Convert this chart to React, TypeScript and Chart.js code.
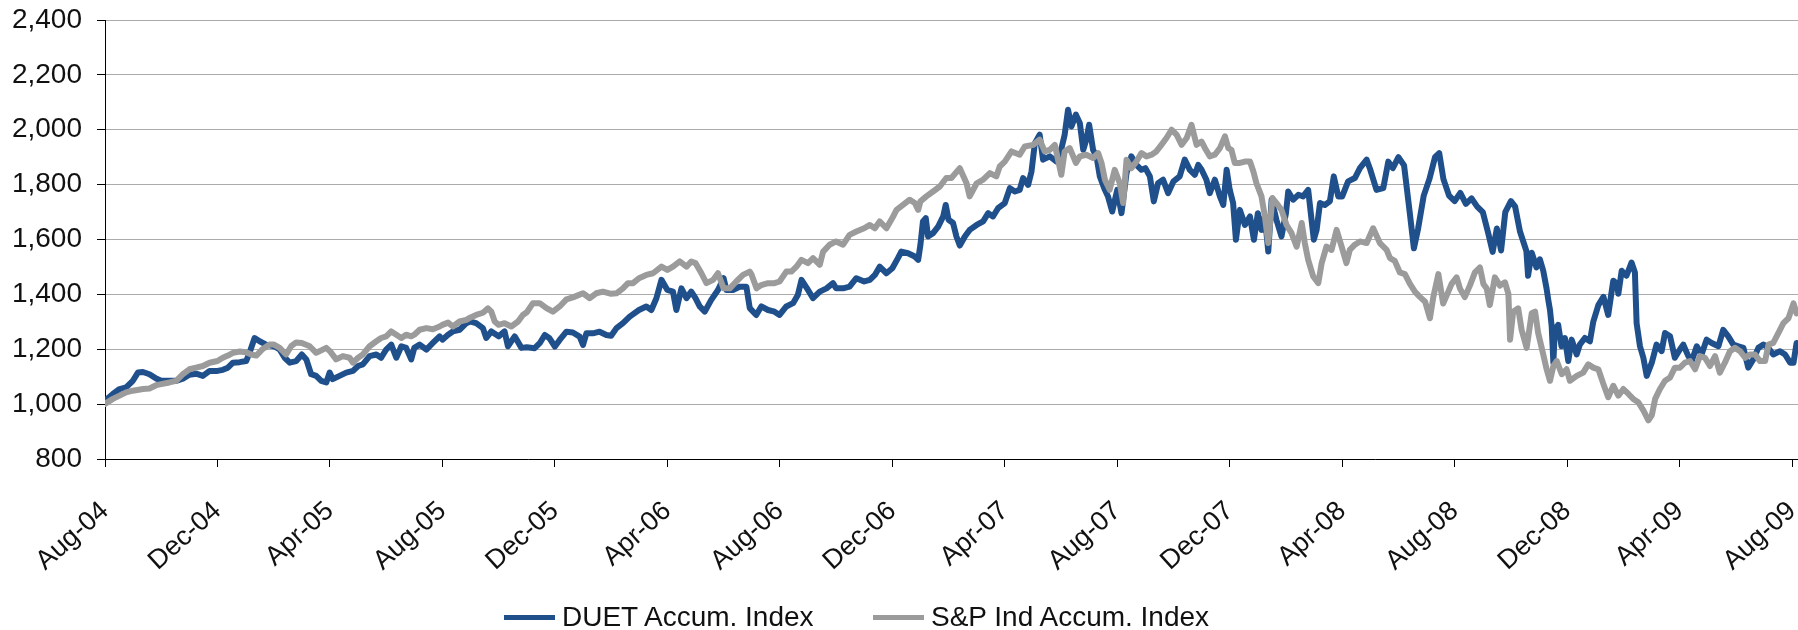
import React, { useEffect, useRef } from "react";
import { Chart, registerables } from "chart.js";

Chart.register(...registerables);

// x positions are months since Aug-04
const tickLabels = [
  "Aug-04", "Dec-04", "Apr-05", "Aug-05", "Dec-05", "Apr-06", "Aug-06", "Dec-06",
  "Apr-07", "Aug-07", "Dec-07", "Apr-08", "Aug-08", "Dec-08", "Apr-09", "Aug-09",
];
const tickStepMonths = 4;
const xMaxMonths = 60.21;
const yMin = 800;
const yMax = 2400;
const yStep = 200;

const seriesNames = ["DUET Accum. Index", "S&P Ind Accum. Index"];
const BLUE = "#20508C";
const GRAY = "#9B9B9B";
const FONT = '"Liberation Sans", Arial, Helvetica, sans-serif';

const duetSeries: [number, number][] = [
  [0, 1013], [0.28, 1037], [0.52, 1055], [0.75, 1061], [0.99, 1085], [1.17, 1115], [1.35, 1117], [1.58, 1109], [1.82, 1093],
  [2.0, 1085], [2.29, 1085], [2.53, 1085], [2.77, 1093], [3.0, 1107], [3.24, 1111], [3.48, 1103], [3.72, 1121], [4.0, 1121],
  [4.19, 1125], [4.37, 1133], [4.55, 1151], [4.79, 1153], [5.02, 1157], [5.14, 1187], [5.32, 1241], [5.5, 1229], [5.73, 1217],
  [6.01, 1211], [6.21, 1199], [6.39, 1169], [6.57, 1151], [6.8, 1157], [7.0, 1181], [7.16, 1163], [7.33, 1109], [7.51, 1103],
  [7.69, 1085], [7.87, 1079], [7.99, 1115], [8.1, 1091], [8.34, 1103], [8.58, 1115], [8.82, 1121], [9.0, 1139], [9.17, 1145],
  [9.41, 1175], [9.65, 1181], [9.82, 1169], [10.0, 1199], [10.18, 1217], [10.36, 1169], [10.54, 1211], [10.71, 1205], [10.89, 1163],
  [11.0, 1205], [11.19, 1217], [11.43, 1199], [11.66, 1223], [11.9, 1247], [12.0, 1235], [12.2, 1253], [12.37, 1265], [12.61, 1271],
  [12.85, 1295], [13.0, 1301], [13.2, 1295], [13.44, 1277], [13.56, 1241], [13.74, 1265], [14.0, 1247], [14.21, 1265], [14.33, 1211],
  [14.57, 1247], [14.81, 1205], [15.0, 1207], [15.28, 1204], [15.46, 1222], [15.64, 1252], [15.81, 1240], [16.0, 1210], [16.17, 1234],
  [16.41, 1264], [16.64, 1261], [16.88, 1246], [17.0, 1216], [17.12, 1258], [17.35, 1258], [17.59, 1264], [17.83, 1252], [18.0, 1249],
  [18.19, 1277], [18.42, 1295], [18.66, 1319], [18.99, 1343], [19.25, 1356], [19.43, 1343], [19.61, 1386], [19.79, 1453], [20.0, 1416],
  [20.2, 1410], [20.32, 1343], [20.5, 1422], [20.68, 1386], [20.85, 1410], [21.0, 1386], [21.15, 1356], [21.33, 1337], [21.56, 1380],
  [21.8, 1416], [22.0, 1459], [22.1, 1416], [22.33, 1416], [22.57, 1428], [22.81, 1428], [22.93, 1350], [23.16, 1325], [23.34, 1356],
  [23.58, 1343], [23.81, 1337], [23.99, 1325], [24.23, 1356], [24.47, 1368], [24.64, 1398], [24.77, 1453], [25.0, 1416], [25.18, 1386],
  [25.42, 1410], [25.66, 1422], [25.89, 1441], [26.0, 1422], [26.25, 1422], [26.48, 1428], [26.72, 1459], [27.0, 1447], [27.2, 1453],
  [27.38, 1471], [27.55, 1501], [27.79, 1477], [28.0, 1495], [28.2, 1532], [28.32, 1556], [28.56, 1550], [28.8, 1538], [28.92, 1526],
  [29.0, 1581], [29.09, 1666], [29.19, 1678], [29.27, 1611], [29.45, 1623], [29.63, 1647], [29.81, 1684], [29.9, 1726], [30.0, 1672],
  [30.16, 1660], [30.28, 1611], [30.4, 1578], [30.58, 1611], [30.75, 1635], [31.0, 1653], [31.23, 1666], [31.41, 1696], [31.58, 1684],
  [31.76, 1714], [32.0, 1733], [32.18, 1787], [32.36, 1775], [32.53, 1781], [32.65, 1824], [32.83, 1799], [32.95, 1848], [33.07, 1951],
  [33.24, 1982], [33.36, 1891], [33.6, 1903], [33.84, 1884], [33.99, 1921], [34.13, 1982], [34.25, 2073], [34.37, 2012], [34.53, 2055],
  [34.67, 2024], [34.79, 1927], [34.9, 1964], [35.0, 2018], [35.14, 1927], [35.26, 1903], [35.38, 1830], [35.56, 1781], [35.67, 1757],
  [35.82, 1702], [36.0, 1781], [36.15, 1696], [36.33, 1842], [36.5, 1903], [36.68, 1872], [36.86, 1854], [37.0, 1860], [37.16, 1830],
  [37.3, 1739], [37.45, 1805], [37.63, 1818], [37.81, 1769], [38.0, 1812], [38.22, 1830], [38.4, 1891], [38.58, 1854], [38.76, 1836],
  [38.88, 1872], [39.0, 1854], [39.17, 1818], [39.29, 1769], [39.47, 1818], [39.65, 1757], [39.77, 1726], [39.89, 1854], [40.0, 1781],
  [40.12, 1733], [40.22, 1599], [40.36, 1708], [40.54, 1653], [40.72, 1684], [40.86, 1599], [41.0, 1696], [41.13, 1635], [41.25, 1684],
  [41.37, 1556], [41.49, 1745], [41.66, 1672], [41.84, 1611], [42.0, 1696], [42.08, 1775], [42.26, 1745], [42.44, 1763], [42.61, 1757],
  [42.79, 1781], [42.99, 1599], [43.09, 1635], [43.21, 1733], [43.38, 1726], [43.56, 1739], [43.7, 1830], [43.86, 1757], [44.0, 1757],
  [44.21, 1812], [44.45, 1824], [44.63, 1860], [44.87, 1891], [45.0, 1854], [45.22, 1781], [45.46, 1787], [45.64, 1884], [45.8, 1860],
  [46.0, 1900], [46.2, 1870], [46.4, 1700], [46.55, 1568], [46.7, 1640], [46.9, 1760], [47.1, 1820], [47.3, 1900], [47.45, 1915],
  [47.6, 1820], [47.8, 1760], [48.0, 1740], [48.2, 1770], [48.4, 1730], [48.6, 1750], [48.8, 1720], [49.0, 1700], [49.2, 1620],
  [49.35, 1555], [49.5, 1640], [49.65, 1560], [49.8, 1700], [50.0, 1740], [50.15, 1720], [50.32, 1630], [50.55, 1558], [50.61, 1468],
  [50.74, 1552], [50.91, 1498], [51.03, 1528], [51.15, 1486], [51.27, 1420], [51.33, 1379], [51.39, 1343], [51.45, 1283], [51.51, 1151],
  [51.56, 1271], [51.68, 1289], [51.8, 1211], [51.92, 1241], [52.04, 1157], [52.16, 1235], [52.34, 1181], [52.45, 1217], [52.63, 1241],
  [52.81, 1229], [52.93, 1301], [53.11, 1361], [53.29, 1391], [53.46, 1325], [53.64, 1450], [53.78, 1438], [53.82, 1402], [53.94, 1486],
  [54.11, 1468], [54.29, 1516], [54.41, 1480], [54.47, 1295], [54.59, 1211], [54.71, 1169], [54.83, 1103], [55.01, 1151], [55.18, 1217],
  [55.36, 1193], [55.48, 1259], [55.66, 1247], [55.83, 1169], [56.01, 1199], [56.13, 1217], [56.31, 1175], [56.43, 1157], [56.61, 1211],
  [56.78, 1181], [56.96, 1235], [57.14, 1223], [57.38, 1211], [57.55, 1271], [57.73, 1247], [57.91, 1217], [58.09, 1211], [58.27, 1205],
  [58.44, 1133], [58.62, 1163], [58.8, 1205], [58.98, 1217], [59.15, 1205], [59.33, 1181], [59.57, 1193], [59.75, 1181], [59.93, 1151],
  [60.05, 1151], [60.16, 1223],
];

const spSeries: [number, number][] = [
  [0, 1001], [0.28, 1019], [0.52, 1031], [0.75, 1043], [0.99, 1049], [1.35, 1055], [1.58, 1057], [1.82, 1069], [2.0, 1073],
  [2.29, 1079], [2.53, 1085], [2.77, 1109], [3.0, 1127], [3.24, 1133], [3.48, 1139], [3.72, 1151], [4.0, 1157], [4.19, 1169],
  [4.37, 1177], [4.55, 1187], [4.79, 1192], [5.02, 1189], [5.2, 1181], [5.38, 1177], [5.61, 1201], [5.85, 1217], [6.01, 1217],
  [6.21, 1205], [6.44, 1181], [6.62, 1211], [6.8, 1225], [7.0, 1223], [7.28, 1211], [7.51, 1187], [7.69, 1196], [7.87, 1205],
  [8.0, 1193], [8.22, 1163], [8.46, 1175], [8.7, 1169], [8.82, 1151], [9.0, 1169], [9.17, 1181], [9.41, 1211], [9.65, 1229],
  [9.82, 1241], [10.0, 1247], [10.18, 1265], [10.36, 1253], [10.54, 1241], [10.71, 1253], [10.89, 1247], [11.0, 1253], [11.19, 1271],
  [11.43, 1277], [11.66, 1273], [11.9, 1283], [12.0, 1289], [12.2, 1297], [12.37, 1283], [12.61, 1301], [12.85, 1307], [13.0, 1316],
  [13.2, 1325], [13.44, 1333], [13.62, 1349], [13.74, 1337], [13.86, 1301], [14.0, 1289], [14.21, 1295], [14.45, 1283], [14.69, 1301],
  [14.86, 1325], [15.0, 1335], [15.22, 1368], [15.46, 1368], [15.7, 1350], [15.93, 1337], [16.17, 1356], [16.41, 1382], [16.64, 1389],
  [17.0, 1404], [17.24, 1386], [17.47, 1404], [17.71, 1410], [18.0, 1402], [18.19, 1404], [18.42, 1422], [18.6, 1441], [18.78, 1441],
  [18.99, 1459], [19.25, 1471], [19.49, 1477], [19.79, 1501], [20.0, 1489], [20.2, 1501], [20.44, 1520], [20.68, 1501], [20.85, 1520],
  [21.0, 1514], [21.21, 1477], [21.39, 1441], [21.63, 1453], [21.8, 1477], [22.0, 1422], [22.22, 1422], [22.45, 1447], [22.69, 1471],
  [22.93, 1483], [23.0, 1471], [23.17, 1422], [23.34, 1434], [23.58, 1441], [23.81, 1441], [23.99, 1447], [24.23, 1483], [24.41, 1483],
  [24.59, 1501], [24.77, 1526], [25.0, 1514], [25.18, 1532], [25.42, 1508], [25.54, 1556], [25.77, 1581], [26.0, 1593], [26.25, 1581],
  [26.48, 1617], [26.72, 1629], [27.0, 1641], [27.2, 1653], [27.38, 1641], [27.55, 1666], [27.79, 1641], [28.0, 1678], [28.15, 1708],
  [28.38, 1726], [28.62, 1745], [28.8, 1733], [28.92, 1708], [29.0, 1739], [29.21, 1757], [29.45, 1775], [29.69, 1793], [29.92, 1824],
  [30.1, 1824], [30.4, 1860], [30.64, 1805], [30.75, 1757], [31.0, 1805], [31.23, 1818], [31.47, 1842], [31.7, 1830], [31.82, 1866],
  [32.0, 1884], [32.24, 1921], [32.53, 1909], [32.71, 1939], [33.01, 1945], [33.24, 1964], [33.42, 1921], [33.6, 1927], [33.78, 1945],
  [34.01, 1836], [34.13, 1921], [34.31, 1933], [34.53, 1879], [34.67, 1903], [34.9, 1909], [35.14, 1897], [35.32, 1915], [35.44, 1879],
  [35.56, 1818], [35.73, 1781], [35.91, 1854], [36.09, 1805], [36.21, 1733], [36.33, 1891], [36.5, 1860], [36.68, 1884], [36.86, 1915],
  [37.04, 1903], [37.22, 1909], [37.39, 1921], [37.57, 1945], [37.75, 1970], [37.93, 2000], [38.11, 1982], [38.29, 1945], [38.47, 1970],
  [38.64, 2018], [38.82, 1945], [39.0, 1957], [39.12, 1933], [39.29, 1903], [39.47, 1909], [39.65, 1933], [39.83, 1976], [39.95, 1933],
  [40.06, 1927], [40.18, 1879], [40.36, 1879], [40.54, 1884], [40.72, 1884], [40.84, 1848], [40.95, 1805], [41.13, 1757], [41.25, 1684],
  [41.37, 1587], [41.52, 1751], [41.66, 1733], [41.84, 1708], [42.02, 1653], [42.2, 1623], [42.38, 1574], [42.56, 1660], [42.67, 1587],
  [42.79, 1526], [42.97, 1465], [43.15, 1441], [43.27, 1514], [43.44, 1574], [43.62, 1562], [43.8, 1635], [43.98, 1574], [44.15, 1514],
  [44.27, 1562], [44.45, 1581], [44.63, 1593], [44.87, 1587], [45.1, 1641], [45.34, 1587], [45.58, 1562], [45.7, 1532], [45.87, 1522],
  [46.05, 1480], [46.23, 1474], [46.41, 1438], [46.59, 1409], [46.77, 1390], [46.95, 1373], [47.12, 1313], [47.24, 1390], [47.42, 1474],
  [47.59, 1367], [47.77, 1409], [47.89, 1438], [48.07, 1462], [48.19, 1421], [48.36, 1390], [48.54, 1432], [48.72, 1480], [48.9, 1498],
  [49.02, 1438], [49.14, 1421], [49.25, 1361], [49.43, 1462], [49.61, 1432], [49.79, 1444], [49.91, 1402], [49.97, 1235], [50.08, 1337],
  [50.26, 1349], [50.38, 1271], [50.56, 1205], [50.74, 1331], [50.86, 1337], [50.97, 1259], [51.15, 1181], [51.27, 1127], [51.39, 1085],
  [51.51, 1139], [51.63, 1157], [51.81, 1109], [51.98, 1127], [52.1, 1085], [52.34, 1103], [52.57, 1115], [52.75, 1145], [52.93, 1133],
  [53.11, 1127], [53.29, 1073], [53.46, 1025], [53.64, 1067], [53.82, 1031], [54.0, 1055], [54.18, 1037], [54.35, 1019], [54.53, 1007],
  [54.71, 977], [54.89, 941], [55.01, 959], [55.13, 1019], [55.3, 1055], [55.48, 1085], [55.66, 1097], [55.83, 1133], [56.01, 1133],
  [56.19, 1151], [56.37, 1157], [56.55, 1127], [56.72, 1175], [56.9, 1169], [57.08, 1139], [57.26, 1175], [57.43, 1115], [57.61, 1151],
  [57.79, 1193], [57.97, 1205], [58.15, 1193], [58.33, 1169], [58.5, 1181], [58.68, 1181], [58.86, 1157], [59.04, 1157], [59.16, 1217],
  [59.33, 1223], [59.51, 1259], [59.69, 1295], [59.87, 1313], [60.05, 1367], [60.16, 1331],
];

export default function App() {
  const canvasRef = useRef<HTMLCanvasElement | null>(null);

  useEffect(() => {
    const canvas = canvasRef.current;
    if (!canvas) return;
    const chart = new Chart(canvas, {
      type: "line",
      data: {
        datasets: [
          {
            label: seriesNames[0],
            data: duetSeries.map(([x, y]) => ({ x, y })),
            borderColor: BLUE,
            backgroundColor: BLUE,
            borderWidth: 6,
            pointRadius: 0,
            tension: 0,
            order: 1,
            borderJoinStyle: "round",
            borderCapStyle: "round",
          },
          {
            label: seriesNames[1],
            data: spSeries.map(([x, y]) => ({ x, y })),
            borderColor: GRAY,
            backgroundColor: GRAY,
            borderWidth: 6,
            pointRadius: 0,
            tension: 0,
            order: 0,
            borderJoinStyle: "round",
            borderCapStyle: "round",
          },
        ],
      },
      options: {
        responsive: false,
        animation: false,
        events: [],
        layout: { padding: { top: 20, right: 0, bottom: 0, left: 0 } },
        plugins: { legend: { display: false }, tooltip: { enabled: false } },
        scales: {
          x: {
            type: "linear",
            min: 0,
            max: xMaxMonths,
            afterBuildTicks: (scale: any) => {
              scale.ticks = tickLabels.map((_, i) => ({ value: i * tickStepMonths }));
            },
            afterFit: (scale: any) => {
              scale.height = 171;
              scale.paddingLeft = 0;
              scale.paddingRight = 0;
            },
            ticks: {
              autoSkip: false,
              minRotation: 42,
              maxRotation: 42,
              padding: 28,
              color: "#111111",
              font: { family: FONT, size: 27 },
              callback: (_v: any, i: number) => tickLabels[i],
            },
            grid: {
              drawOnChartArea: false,
              drawTicks: true,
              tickLength: 8,
              tickColor: "#000000",
              color: "#000000",
            },
            border: { display: true, color: "#000000", width: 1 },
          },
          y: {
            min: yMin,
            max: yMax,
            afterFit: (scale: any) => {
              scale.width = 105;
              scale.paddingTop = 0;
              scale.paddingBottom = 0;
            },
            ticks: {
              stepSize: yStep,
              padding: 15,
              color: "#111111",
              font: { family: FONT, size: 28 },
              callback: (v: any) => Number(v).toLocaleString("en-US"),
            },
            grid: {
              color: "#ABABAB",
              lineWidth: 1,
              tickColor: "#000000",
              tickLength: 8,
            },
            border: { display: true, color: "#000000", width: 1 },
          },
        },
      },
    });
    return () => chart.destroy();
  }, []);

  const legendItem = (name: string, color: string, left: number) => (
    <div
      key={name}
      style={{
        position: "absolute",
        left,
        top: 601,
        height: 32,
        display: "flex",
        alignItems: "center",
        whiteSpace: "nowrap",
        fontFamily: FONT,
        fontSize: 28,
        lineHeight: "32px",
        color: "#111111",
      }}
    >
      <span style={{ display: "inline-block", width: 51, height: 5, background: color, marginRight: 7 }} />
      <span>{name}</span>
    </div>
  );

  return (
    <div style={{ position: "absolute", left: 0, top: 0, width: 1798, height: 630, background: "#ffffff" }}>
      <canvas ref={canvasRef} width={1798} height={630} style={{ display: "block" }} />
      {legendItem(seriesNames[0], BLUE, 504)}
      {legendItem(seriesNames[1], GRAY, 873)}
    </div>
  );
}
